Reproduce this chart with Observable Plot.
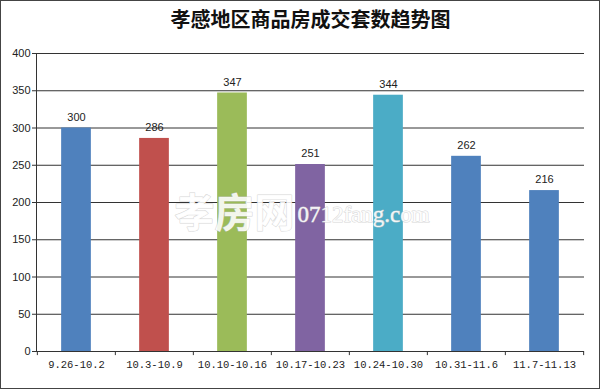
<!DOCTYPE html>
<html>
<head>
<meta charset="utf-8">
<script src="https://cdn.jsdelivr.net/npm/d3@7"></script>
<script src="https://cdn.jsdelivr.net/npm/@observablehq/plot@0.6"></script>
<style>
  html, body { margin: 0; padding: 0; background: #fff; }
  #chart svg { display: block; outline: 1px solid #444; outline-offset: -1px; }
</style>
</head>
<body>
<div id="chart"></div>
<script>
const title = "孝感地区商品房成交套数趋势图";
const categories = ["9.26-10.2", "10.3-10.9", "10.10-10.16", "10.17-10.23", "10.24-10.30", "10.31-11.6", "11.7-11.13"];
const values = [300, 286, 347, 251, 344, 262, 216];
const colors = ["#4f81bd", "#c0504d", "#9bbb59", "#8064a2", "#4bacc6", "#4f81bd", "#4f81bd"];
const yTicks = [0, 50, 100, 150, 200, 250, 300, 350, 400];

const data = categories.map((c, i) => ({category: c, value: values[i], color: colors[i]}));

const W = 600, H = 389;
const mL = 36, mR = 16, mT = 53, mB = 38;
const band = (W - mL - mR) / categories.length;
const barW = 30;
const inset = (band - barW) / 2;

const chart = Plot.plot({
  width: W,
  height: H,
  marginLeft: mL,
  marginRight: mR,
  marginTop: mT,
  marginBottom: mB,
  style: {background: "#fff", overflow: "visible"},
  x: {domain: categories, padding: 0, axis: null, label: null},
  y: {domain: [0, 400], axis: null, label: null},
  marks: [
    Plot.ruleY(yTicks, {stroke: "#333", strokeWidth: 1, strokeOpacity: 1}),
    Plot.barY(data, {x: "category", y: "value", fill: "color", insetLeft: inset, insetRight: inset}),
    Plot.text(data, {x: "category", y: "value", text: d => String(d.value), dy: -11,
      fontFamily: "Liberation Sans, Arial, sans-serif", fontSize: 11, fill: "#222"}),
    // y axis line and ticks
    Plot.frame({anchor: "left", stroke: "#333"}),
    Plot.axisY({ticks: yTicks, tickSize: 4, tickPadding: 2, stroke: "#333", label: null,
      fontFamily: "Liberation Sans, Arial, sans-serif", fontSize: 11, fill: "#222"}),
    // x axis line
    Plot.ruleY([0], {stroke: "#333"}),
    // boundary ticks
    Plot.ruleX(categories, {x: d => d, dx: -band / 2, y1: 0, y2: -5.5, stroke: "#333"}),
    Plot.ruleX(categories.slice(-1), {x: d => d, dx: band / 2, y1: 0, y2: -5.5, stroke: "#333"}),
    Plot.axisX({tickSize: 0, tickPadding: 9, label: null, fontFamily: "Liberation Mono, DejaVu Sans Mono, monospace",
      fontSize: 10.5, fill: "#222"}),
    // watermark
    Plot.text(["孝房网"], {frameAnchor: "middle", dx: -76, dy: 12, fontSize: 40, fontWeight: "bold",
      fontFamily: "Noto Sans CJK SC", fill: "#fff", fillOpacity: 0.9, stroke: "#ccc", strokeWidth: 1, strokeOpacity: 0.8}),
    Plot.text(["0712fang.com"], {frameAnchor: "middle", dx: 53, dy: 12, fontSize: 23,
      fontFamily: "Liberation Serif, serif", fill: "#fff", fillOpacity: 0.9, stroke: "#ccc", strokeWidth: 1, strokeOpacity: 0.8}),
    // title
    Plot.text([title], {frameAnchor: "top", dy: -41, fontSize: 20, fontWeight: "bold",
      fontFamily: "Noto Sans CJK SC", fill: "#111"})
  ]
});
document.getElementById("chart").appendChild(chart);
</script>
</body>
</html>
